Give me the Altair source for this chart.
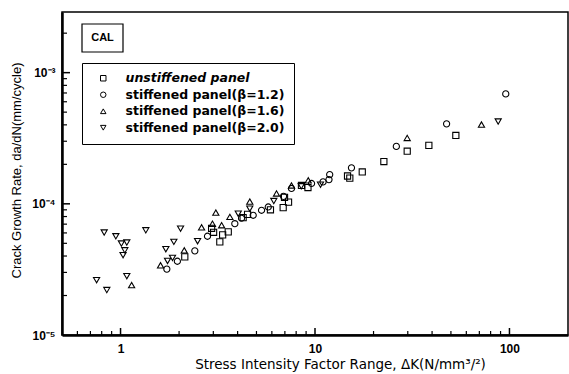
import altair as alt
import pandas as pd

# ---- data ----
series_names = ["unstiffened panel", "stiffened panel(β=1.2)",
                "stiffened panel(β=1.6)", "stiffened panel(β=2.0)"]

sq_x = [2.14, 3.24, 3.58, 4.27, 6.97, 7.31, 6.86, 14.7, 15.1, 17.5, 22.6,
        29.8, 38.5, 53.0, 2.94, 3.01, 4.50, 8.52, 3.35, 5.9, 9.2]
sq_y = [3.94e-5, 5.13e-5, 6.11e-5, 7.85e-5, 1.12e-4, 1.03e-4, 9.35e-5,
        1.63e-4, 1.57e-4, 1.75e-4, 2.10e-4, 2.52e-4, 2.79e-4, 3.32e-4,
        6.51e-5, 6.07e-5, 8.31e-5, 1.38e-4, 5.8e-5, 9.0e-5, 1.33e-4]

c12_x = [1.73, 1.96, 2.41, 3.87, 5.75, 5.31, 4.81, 11.0, 11.8, 11.9, 15.4,
         26.2, 47.5, 95.7, 7.57, 9.6, 6.89, 2.8, 4.19]
c12_y = [3.18e-5, 3.65e-5, 4.38e-5, 7.06e-5, 9.46e-5, 8.93e-5, 8.18e-5,
         1.47e-4, 1.53e-4, 1.67e-4, 1.88e-4, 2.74e-4, 4.07e-4, 6.89e-4,
         1.31e-4, 1.43e-4, 1.14e-4, 5.66e-5, 7.77e-5]

t16_x = [1.14, 1.606, 2.126, 3.09, 4.62, 3.65, 2.97, 3.31, 6.34, 7.57, 9.23,
         29.8, 71.8, 2.61]
t16_y = [2.40e-5, 3.40e-5, 4.42e-5, 8.57e-5, 1.04e-4, 7.95e-5, 7.06e-5,
         6.87e-5, 1.20e-4, 1.38e-4, 1.51e-4, 3.18e-4, 4.02e-4, 6.62e-5]

t20_x = [0.753, 0.850, 0.824, 0.946, 1.01, 1.077, 1.052, 1.03, 1.077, 1.349,
         2.035, 1.88, 1.71, 1.85, 1.745, 2.49, 6.14, 4.62, 10.67, 87.5, 8.5,
         4.03]
t20_y = [2.62e-5, 2.20e-5, 6.04e-5, 5.66e-5, 4.98e-5, 5.07e-5, 4.42e-5,
         4.06e-5, 2.81e-5, 6.28e-5, 6.47e-5, 5.13e-5, 4.51e-5, 3.87e-5,
         3.67e-5, 5.19e-5, 1.05e-4, 9.18e-5, 1.40e-4, 4.24e-4, 1.36e-4,
         8.41e-5]

x_major = [1, 10, 100]
x_minor = [0.6, 0.7, 0.8, 0.9, 2, 3, 4, 5, 6, 7, 8, 9,
           20, 30, 40, 50, 60, 70, 80, 90]
y_major = [1e-4, 1e-3]
y_minor = [2e-5, 3e-5, 4e-5, 5e-5, 6e-5, 7e-5, 8e-5, 9e-5,
           2e-4, 3e-4, 4e-4, 5e-4, 6e-4, 7e-4, 8e-4, 9e-4, 2e-3]

W, H = 506, 323
FONT = "Liberation Sans"
WIDE = "DejaVu Sans"

rows = []
for name, xs, ys in zip(series_names, [sq_x, c12_x, t16_x, t20_x],
                        [sq_y, c12_y, t16_y, t20_y]):
    for a, b in zip(xs, ys):
        rows.append({"series": name, "dK": a, "rate": b})
df = pd.DataFrame(rows)

xscale = alt.Scale(type="log", domain=[0.5, 200], nice=False)
yscale = alt.Scale(type="log", domain=[1e-5, 2.9e-3], nice=False)

ylab = ("round(log(datum.value)/LN10) == -5 ? '10⁻⁵' : "
        "(round(log(datum.value)/LN10) == -4 ? '10⁻⁴' : '10⁻³')")

points = alt.Chart(df).mark_point(filled=False, color="black", size=38,
                                  strokeWidth=1.1, opacity=1).encode(
    x=alt.X("dK:Q", scale=xscale,
            axis=alt.Axis(values=x_major, format="d", ticks=False, grid=False,
                          labelFont=FONT, labelFontWeight="bold",
                          labelFontSize=12, labelPadding=8, labelColor="black",
                          domainColor="black", domainWidth=2.5,
                          title="Stress Intensity Factor Range, ΔK(N/mm³/²)",
                          titleFont=WIDE, titleFontWeight="normal",
                          titleFontSize=13.5, titleColor="black",
                          titlePadding=3, titleX=278)),
    y=alt.Y("rate:Q", scale=yscale,
            axis=alt.Axis(values=[1e-5, 1e-4, 1e-3], labelExpr=ylab,
                          ticks=False, grid=False,
                          labelFont=FONT, labelFontWeight="bold",
                          labelFontSize=12, labelPadding=7, labelColor="black",
                          domainColor="black", domainWidth=2.5,
                          title="Crack Growth Rate, da/dN(mm/cycle)",
                          titleFont=FONT, titleFontWeight="normal",
                          titleFontSize=13, titleColor="black",
                          titlePadding=8, titleY=158)),
    shape=alt.Shape("series:N",
                    scale=alt.Scale(domain=series_names,
                                    range=["square", "circle",
                                           "triangle-up", "triangle-down"]),
                    legend=alt.Legend(
                        title=None, orient="none", legendX=20, legendY=51,
                        strokeColor="black", fillColor="white", padding=9,
                        labelFont=WIDE, labelFontWeight="bold",
                        labelFontSize=12.5, labelColor="black", labelOffset=16,
                        symbolSize=30, symbolStrokeWidth=1,
                        symbolStrokeColor="black", symbolFillColor="white",
                        rowPadding=3.5, symbolOffset=6,
                        labelFontStyle=alt.ExprRef(
                            expr="datum.label == 'unstiffened panel' ? 'italic' : 'normal'"))),
)

xt_major = alt.Chart(pd.DataFrame({"v": x_major})).mark_rule(
    color="black", strokeWidth=1.5).encode(
    x=alt.X("v:Q", scale=xscale),
    y=alt.value(H), y2=alt.value(H - 7))
xt_minor = alt.Chart(pd.DataFrame({"v": x_minor})).mark_rule(
    color="black", strokeWidth=1.2).encode(
    x=alt.X("v:Q", scale=xscale),
    y=alt.value(H), y2=alt.value(H - 4))
yt_major = alt.Chart(pd.DataFrame({"v": y_major})).mark_rule(
    color="black", strokeWidth=1.5).encode(
    y=alt.Y("v:Q", scale=yscale),
    x=alt.value(0), x2=alt.value(8))
yt_minor = alt.Chart(pd.DataFrame({"v": y_minor})).mark_rule(
    color="black", strokeWidth=1.2).encode(
    y=alt.Y("v:Q", scale=yscale),
    x=alt.value(0), x2=alt.value(5))

cal_box = alt.Chart(pd.DataFrame({"t": ["CAL"]})).mark_rect(
    fill="white", stroke="black", strokeWidth=1.2).encode(
    x=alt.value(20), x2=alt.value(61), y=alt.value(12), y2=alt.value(40))
cal_text = alt.Chart(pd.DataFrame({"t": ["CAL"]})).mark_text(
    font=FONT, fontWeight="bold", fontSize=11, color="black").encode(
    text="t:N", x=alt.value(40.5), y=alt.value(26))

chart = alt.layer(points, xt_major, xt_minor, yt_major, yt_minor,
                  cal_box, cal_text).properties(
    width=W, height=H,
    autosize=alt.AutoSizeParams(type="none"),
    padding={"left": 62, "top": 12, "right": 1, "bottom": 39},
    background="white",
).configure_view(stroke="black", strokeWidth=1.5)

chart.save("out.html", embed_options={"renderer": "svg", "actions": False})
